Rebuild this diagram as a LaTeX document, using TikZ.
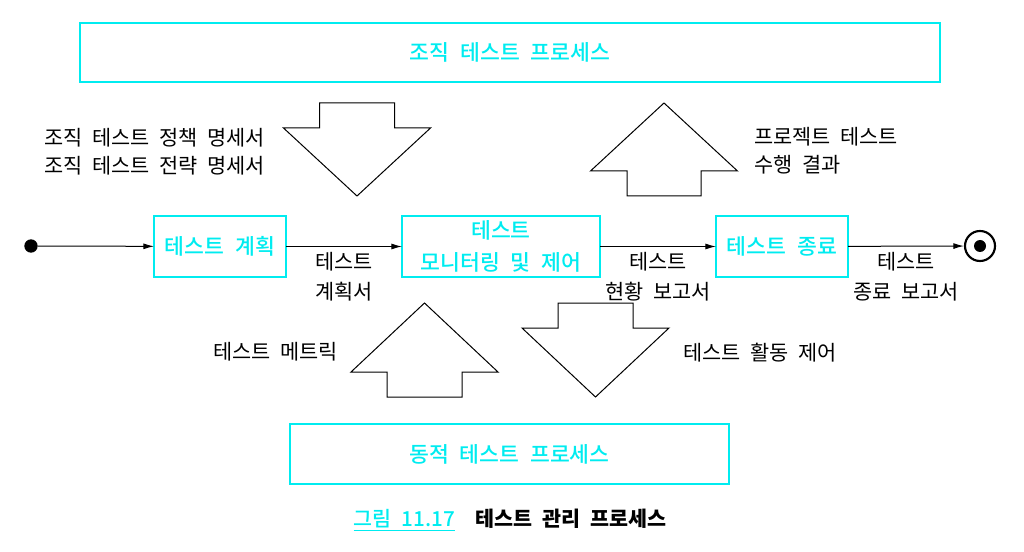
\documentclass[tikz,border=0pt]{standalone}
\usepackage{fontspec}
\setmainfont{Noto Sans CJK KR}[WordSpace=2.1]
\newfontfamily\boxfont{Noto Sans CJK KR Medium}[WordSpace=2.2]
\usetikzlibrary{arrows,arrows.meta,shapes,positioning}
\definecolor{boxcyan}{RGB}{0,236,240}

\begin{document}
\begin{tikzpicture}[x=0.75pt,y=-0.75pt,>={Latex[length=8pt,width=4.5pt]}]
      \tikzstyle{proc}=[rectangle,draw=boxcyan,line width=2pt,text=boxcyan,minimum height=45.75pt,outer sep=0pt,align=center,font=\boxfont\fontsize{16.2}{24}\selectfont]
      \tikzstyle{lab}=[inner sep=0pt,align=left,font=\fontsize{15.6}{21}\selectfont]
      \tikzstyle{flow}=[inner sep=0pt,align=center,font=\fontsize{15.6}{22.5}\selectfont]
      \tikzstyle{block}=[draw=black,line width=0.75pt,fill=white]

      \useasboundingbox (0,0) rectangle (1024,552);

      % process boxes
      \node[proc,minimum width=645pt,minimum height=44.25pt](org) at (510,52.5){조직 테스트 프로세스};
      \node[proc,minimum width=329.25pt,minimum height=45pt](dyn) at (509.5,454){동적 테스트 프로세스};

      \node[proc,minimum width=99pt](plan) at (220,246.5){테스트 계획};
      \node[proc,minimum width=148.5pt](mon)[right=87pt of plan]{테스트\\모니터링 및 제어};
      \node[proc,minimum width=99pt](done)[right=87pt of mon]{테스트 종료};

      \node[circle,fill=black,inner sep=0pt,minimum size=10pt](start) at (31,246){};
      \node[circle,draw=black,line width=1.6pt,inner sep=0pt,minimum size=22.5pt](stop) at (980,246){};
      \node[circle,fill=black,inner sep=0pt,minimum size=9pt](stopdot) at (stop){};

      \path[->,line width=0.75pt]
      (start) edge (plan)
      (plan) edge node[flow,below=4pt](plandoc){테스트\\계획서} (mon)
      (mon) edge node[flow,below=4pt](report){테스트\\현황 보고서} (done)
      (done) edge node[flow,below=4pt](final){테스트\\종료 보고서} (stop);

      % block arrows
      \begin{scope}[shift={(357,103)}]
        \draw[block] (-37.5,0) -- (37.5,0) -- (37.5,25) -- (73.5,25) -- (0,93) -- (-73.5,25) -- (-37.5,25) -- cycle;
      \end{scope}
      \begin{scope}[shift={(664,103)}]
        \draw[block] (0,0) -- (73.5,68) -- (37,68) -- (37,93) -- (-37,93) -- (-37,68) -- (-73.5,68) -- cycle;
      \end{scope}
      \begin{scope}[shift={(424.5,303)}]
        \draw[block] (0,0) -- (73.5,69) -- (37.5,69) -- (37.5,94) -- (-37.5,94) -- (-37.5,69) -- (-73.5,69) -- cycle;
      \end{scope}
      \begin{scope}[shift={(595.5,303)}]
        \draw[block] (-37.5,0) -- (37.5,0) -- (37.5,25) -- (73.5,25) -- (0,94) -- (-73.5,25) -- (-37.5,25) -- cycle;
      \end{scope}

      % labels
      \node[lab,anchor=west](policy) at (44,151.5){조직 테스트 정책 명세서\\조직 테스트 전략 명세서};
      \node[lab,anchor=west](result) at (754,151){프로젝트 테스트\\수행 결과};
      \node[lab,anchor=west](metric) at (213,352){테스트 메트릭};
      \node[lab,anchor=west](control) at (683,353){테스트 활동 제어};

      \node[inner sep=0pt](caption) at (510,520){\fontsize{15.5}{18}\selectfont\textcolor{boxcyan}{\boxfont\underline{그림 11.17}}\hspace{15pt}\textbf{테스트 관리 프로세스}};
    \end{tikzpicture}
\end{document}
